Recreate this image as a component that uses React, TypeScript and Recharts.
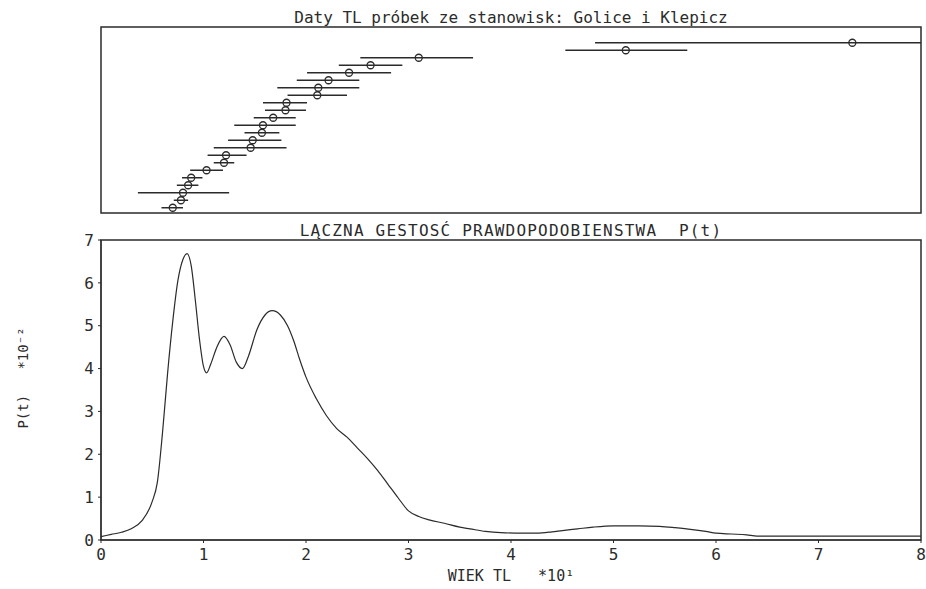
import React from 'react';
import {
  ScatterChart,
  Scatter,
  ErrorBar,
  LineChart,
  Line,
  XAxis,
  YAxis,
  ReferenceArea,
} from 'recharts';

// TL dates (units of 10 ka), sample rows from bottom to top
const sampleRow = [1, 2, 3, 4, 5, 6, 7, 8, 9, 10, 11, 12, 13, 14, 15, 16, 17, 18, 19, 20, 21, 22, 23];
const sampleAge = [0.7, 0.78, 0.8, 0.85, 0.88, 1.03, 1.2, 1.22, 1.46, 1.48, 1.57, 1.58, 1.68, 1.8, 1.81, 2.11, 2.12, 2.22, 2.42, 2.63, 3.1, 5.12, 7.33];
const sampleLow = [0.59, 0.71, 0.36, 0.74, 0.79, 0.87, 1.1, 1.04, 1.1, 1.24, 1.4, 1.3, 1.49, 1.6, 1.58, 1.82, 1.72, 1.91, 2.01, 2.32, 2.53, 4.53, 4.82];
const sampleHigh = [0.8, 0.85, 1.25, 0.95, 0.99, 1.19, 1.3, 1.42, 1.81, 1.76, 1.74, 1.9, 1.9, 2.0, 2.01, 2.4, 2.52, 2.52, 2.83, 2.94, 3.63, 5.72, 8.0];

// summed probability density P(t) * 10^-2
const ageT = [0, 0.1, 0.2, 0.3, 0.4, 0.5, 0.55, 0.6, 0.65, 0.7, 0.75, 0.8, 0.84, 0.88, 0.92, 0.96, 1.0, 1.03, 1.07, 1.13, 1.2, 1.26, 1.32, 1.38, 1.44, 1.52, 1.6, 1.67, 1.75, 1.82, 1.88, 1.94, 2.0, 2.1, 2.2, 2.3, 2.4, 2.5, 2.6, 2.7, 2.8, 2.9, 3.0, 3.1, 3.2, 3.35, 3.5, 3.6, 3.75, 3.9, 4.1, 4.25, 4.4, 4.5, 4.65, 4.8, 5.0, 5.25, 5.45, 5.6, 5.75, 5.9, 6.0, 6.15, 6.3, 6.4, 7.0, 8.0];
const density = [0.08, 0.13, 0.18, 0.27, 0.45, 0.9, 1.35, 2.5, 3.9, 5.1, 6.05, 6.55, 6.68, 6.4, 5.6, 4.7, 4.05, 3.9, 4.1, 4.5, 4.75, 4.55, 4.15, 4.0, 4.3, 4.9, 5.25, 5.35, 5.25, 5.0, 4.65, 4.2, 3.8, 3.3, 2.9, 2.6, 2.4, 2.15, 1.9, 1.62, 1.3, 0.98, 0.68, 0.55, 0.47, 0.39, 0.3, 0.26, 0.2, 0.17, 0.16, 0.16, 0.19, 0.22, 0.26, 0.3, 0.33, 0.33, 0.32, 0.29, 0.25, 0.2, 0.16, 0.14, 0.12, 0.09, 0.09, 0.09];

const xTicks = [0, 1, 2, 3, 4, 5, 6, 7, 8];
const yTicks = [0, 1, 2, 3, 4, 5, 6, 7];

const samples = sampleRow.map((row, i) => ({
  row,
  age: sampleAge[i],
  err: [sampleAge[i] - sampleLow[i], sampleHigh[i] - sampleAge[i]],
}));
const curve = ageT.map((t, i) => ({ t, p: density[i] }));

const INK = '#2b2b2b';
const FONT = '"DejaVu Sans Mono", "Liberation Mono", monospace';

const titleStyle: React.CSSProperties = {
  position: 'absolute',
  left: 101,
  width: 820,
  textAlign: 'center',
  fontFamily: FONT,
  fontSize: 16,
  color: INK,
  lineHeight: '16px',
  whiteSpace: 'pre',
};

export default function App() {
  return (
    <div
      style={{
        position: 'absolute',
        top: 0,
        left: 0,
        width: 926,
        height: 589,
        background: '#fff',
        overflow: 'hidden',
      }}
    >
      <div style={{ ...titleStyle, top: 10 }}>Daty TL próbek ze stanowisk: Golice i Klepicz</div>

      {/* top panel: dates with error bars */}
      <div style={{ position: 'absolute', top: 0, left: 0 }}>
        <ScatterChart width={926} height={230} margin={{ top: 27, right: 5, bottom: 17, left: 101 }}>
          <XAxis type="number" dataKey="age" domain={[0, 8]} hide allowDataOverflow />
          <YAxis type="number" dataKey="row" domain={[0.3, 25.1]} hide width={0} />
          <ReferenceArea x1={0} x2={8} y1={0.3} y2={25.1} fill="none" stroke={INK} strokeWidth={1.5} />
          <Scatter
            data={samples}
            isAnimationActive={false}
            shape={(props: any) => (
              <circle cx={props.cx} cy={props.cy} r={3.5} fill="none" stroke={INK} strokeWidth={1.3} />
            )}
          >
            <ErrorBar dataKey="err" direction="x" width={0} stroke={INK} strokeWidth={1.5} />
          </Scatter>
        </ScatterChart>
      </div>

      <div style={{ ...titleStyle, top: 223, letterSpacing: 1.2 }}>LĄCZNA GESTOSĆ PRAWDOPODOBIENSTWA  P(t)</div>

      {/* bottom panel: summed density */}
      <div style={{ position: 'absolute', top: 220, left: 0 }}>
        <LineChart width={926} height={369} data={curve} margin={{ top: 20, right: 5, bottom: 0, left: 0 }}>
          <XAxis
            type="number"
            dataKey="t"
            domain={[0, 8]}
            ticks={xTicks}
            height={49}
            stroke={INK}
            tickSize={3}
            tickMargin={6}
            tick={{ fill: INK, fontFamily: FONT, fontSize: 16 }}
            label={{
              content: () => (
                <text
                  x={511}
                  y={361}
                  textAnchor="middle"
                  fill={INK}
                  fontFamily={FONT}
                  fontSize={15}
                  xmlSpace="preserve"
                  style={{ whiteSpace: 'pre' }}
                >
                  {'WIEK TL   *10¹'}
                </text>
              ),
            }}
          />
          <YAxis
            type="number"
            domain={[0, 7]}
            ticks={yTicks}
            width={101}
            stroke={INK}
            tickSize={3}
            tickMargin={4}
            tick={{ fill: INK, fontFamily: FONT, fontSize: 16 }}
            label={{
              content: () => (
                <text
                  x={28}
                  y={158}
                  transform="rotate(-90 28 158)"
                  textAnchor="middle"
                  fill={INK}
                  fontFamily={FONT}
                  fontSize={14}
                  xmlSpace="preserve"
                  style={{ whiteSpace: 'pre' }}
                >
                  {'P(t)   *10⁻²'}
                </text>
              ),
            }}
          />
          <ReferenceArea x1={0} x2={8} y1={0} y2={7} fill="none" stroke={INK} strokeWidth={1.5} />
          <Line
            type="monotone"
            dataKey="p"
            stroke={INK}
            strokeWidth={1.2}
            dot={false}
            isAnimationActive={false}
          />
        </LineChart>
      </div>
    </div>
  );
}
